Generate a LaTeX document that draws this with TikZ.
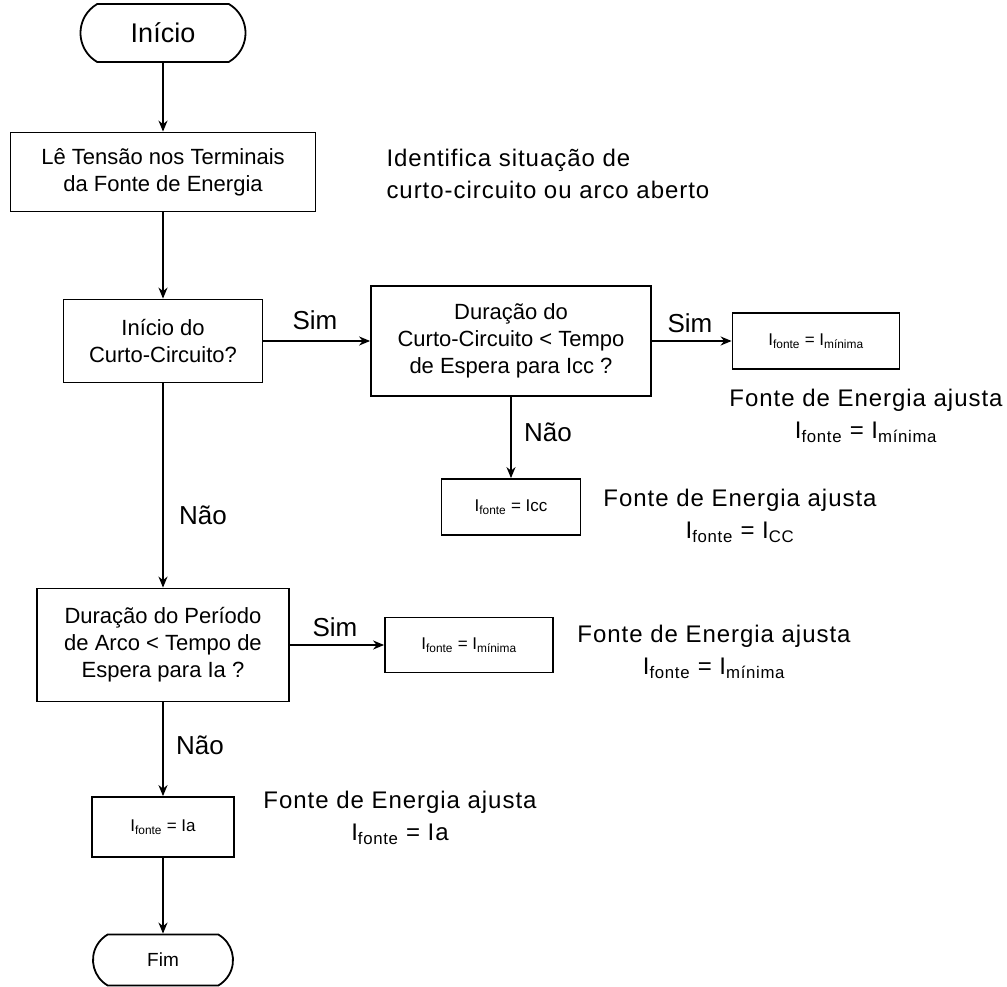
\documentclass[tikz,border=0pt]{standalone}
\usepackage{fontspec}
\setmainfont{Liberation Sans}
\newfontfamily\notefont[LetterSpace=4]{Liberation Sans}
\usetikzlibrary{shapes.misc,arrows.meta}

\newcommand{\Ifte}{I\textsubscript{fonte}}

\tikzset{
  box/.style={draw,line width=1.8pt,align=center,inner sep=0pt,
    font=\fontsize{22}{27}\selectfont},
  term/.style={draw,line width=1.8pt,rounded rectangle,
    rounded rectangle arc length=120,inner sep=0pt},
  note/.style={align=center,font=\notefont\fontsize{24}{32}\selectfont},
  lbl/.style={font=\fontsize{26}{28}\selectfont},
  arr/.style={line width=1.8pt,-{Stealth[length=11pt,width=9pt]}},
}

\begin{document}
\begin{tikzpicture}[x=1pt,y=-1pt]
        \useasboundingbox (0,0) rectangle (1007,987);
        % main column
        \node[term,minimum width=165pt,minimum height=58pt,font=\fontsize{27}{30}\selectfont] (inicio) at (163,33) {Início};
        \node[box,minimum width=305pt,minimum height=79pt] (le) at (163,172) {Lê Tensão nos Terminais\\da Fonte de Energia};
        \node[note,align=left,anchor=west] (ident) at (383,174) {Identifica situação de\\curto-circuito ou arco aberto};
        \node[box,minimum width=199pt,minimum height=83pt] (curto) at (163,341) {Início do\\Curto-Circuito?};
        \node[box,minimum width=252pt,minimum height=113pt] (periodo) at (163,645) {Duração do Período\\de Arco < Tempo de\\Espera para Ia ?};
        \node[box,minimum width=142pt,minimum height=60pt,font=\fontsize{17}{20}\selectfont] (ia) at (163,827) {\Ifte{} = Ia};
        \node[term,minimum width=140pt,minimum height=51pt,font=\fontsize{19}{22}\selectfont] (fim) at (163,960) {Fim};
        % short-circuit branch
        \node[box,minimum width=280pt,minimum height=110pt] (durcc) at (511,341) {Duração do\\Curto-Circuito < Tempo\\de Espera para Icc ?};
        \node[box,minimum width=167pt,minimum height=56pt,font=\fontsize{17}{20}\selectfont] (minA) at (816,341) {\Ifte{} = I\textsubscript{mínima}};
        \node[box,minimum width=139pt,minimum height=56pt,font=\fontsize{17}{20}\selectfont] (icc) at (511,507) {\Ifte{} = Icc};
        \node[box,minimum width=168pt,minimum height=55pt,font=\fontsize{17}{20}\selectfont] (minB) at (469,645) {\Ifte{} = I\textsubscript{mínima}};
        % side notes
        \node[note] (noteA) at (866,416) {Fonte de Energia ajusta\\\Ifte{} = I\textsubscript{mínima}};
        \node[note] (noteB) at (740,516) {Fonte de Energia ajusta\\\Ifte{} = I\textsubscript{CC}};
        \node[note] (noteC) at (714,652) {Fonte de Energia ajusta\\\Ifte{} = I\textsubscript{mínima}};
        \node[note] (noteD) at (400,818) {Fonte de Energia ajusta\\\Ifte{} = Ia};
        % branch labels
        \node[lbl] (sim1) at (315,320) {Sim};
        \node[lbl] (sim2) at (690,323) {Sim};
        \node[lbl] (sim3) at (335,627) {Sim};
        \node[lbl] (nao1) at (548,432) {Não};
        \node[lbl] (nao2) at (203,515) {Não};
        \node[lbl] (nao3) at (200,745) {Não};
        % connectors
        \draw[arr] (inicio) -- (le);
        \draw[arr] (le) -- (curto);
        \draw[arr] (curto) -- (durcc);
        \draw[arr] (durcc) -- (minA);
        \draw[arr] (durcc) -- (icc);
        \draw[arr] (curto) -- (periodo);
        \draw[arr] (periodo) -- (minB);
        \draw[arr] (periodo) -- (ia);
        \draw[arr] (ia) -- (fim);
      \end{tikzpicture}
\end{document}
